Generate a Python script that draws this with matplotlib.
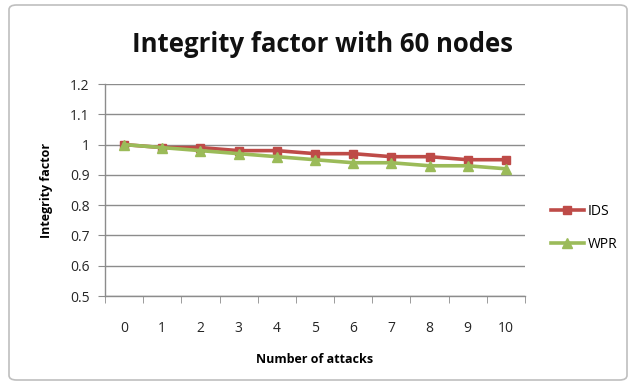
import matplotlib
matplotlib.use("Agg")
import matplotlib.pyplot as plt
from matplotlib.patches import FancyBboxPatch
import numpy as np

attacks = [0, 1, 2, 3, 4, 5, 6, 7, 8, 9, 10]
ids_values = [1.00, 0.99, 0.99, 0.98, 0.98, 0.97, 0.97, 0.96, 0.96, 0.95, 0.95]
wpr_values = [1.00, 0.99, 0.98, 0.97, 0.96, 0.95, 0.94, 0.94, 0.93, 0.93, 0.92]
y_ticks = [0.5, 0.6, 0.7, 0.8, 0.9, 1.0, 1.1, 1.2]
y_tick_labels = ["0.5", "0.6", "0.7", "0.8", "0.9", "1", "1.1", "1.2"]

plt.rcParams['font.family'] = ['Open Sans', 'DejaVu Sans']

W, H = 630, 386
fig = plt.figure(figsize=(W / 100, H / 100), dpi=100)
fig.patch.set_facecolor("white")

# rounded chart border, drawn behind the axes
border = FancyBboxPatch((9 / W, 6 / H), 618 / W, 375 / H,
                        boxstyle="round,pad=0,rounding_size=0.012",
                        transform=fig.transFigure, facecolor="white",
                        edgecolor="#BFBFBF", linewidth=1.2, zorder=-10)
fig.patches.append(border)

ax = fig.add_axes([105 / W, 90 / H, 420 / W, 212 / H])
ax.set_zorder(5)
ax.set_facecolor("none")

x = np.arange(len(attacks))
ax.plot(x, ids_values, color="#BE4B48", linewidth=2.6, marker="s",
        markersize=6, label="IDS", zorder=3)
ax.plot(x, wpr_values, color="#9BBB59", linewidth=2.6, marker="^",
        markersize=7, label="WPR", zorder=4)

ax.set_xlim(-0.5, len(attacks) - 0.5)
ax.set_ylim(0.5, 1.2)
ax.set_yticks(y_ticks)
ax.set_yticklabels(y_tick_labels)
ax.set_xticks(x)
ax.set_xticklabels([str(a) for a in attacks])
ax.set_xticks(np.arange(-0.5, len(attacks)), minor=True)
ax.tick_params(axis="x", which="major", length=0, pad=18, labelsize=10, labelcolor="#262626")
ax.tick_params(axis="x", which="minor", length=5, color="#8C8C8C", direction="out")
ax.tick_params(axis="y", length=5, color="#8C8C8C", direction="out", labelsize=10,
               pad=6, labelcolor="#262626")

ax.grid(axis="y", color="#8C8C8C", linewidth=1.0)
ax.set_axisbelow(True)
for s in ["top", "right"]:
    ax.spines[s].set_visible(False)
for s in ["left", "bottom"]:
    ax.spines[s].set_color("#8C8C8C")
    ax.spines[s].set_linewidth(1.0)

ax.set_xlabel("Number of attacks", fontsize=9, fontweight="bold", labelpad=12)
ax.set_ylabel("Integrity factor", fontsize=9, fontweight="bold", labelpad=12)

fig.text(323 / W, 1 - 45 / H, "Integrity factor with 60 nodes", ha="center",
         va="center", fontsize=18.5, fontweight="bold", color="#111111")

leg = fig.legend(loc="center left", bbox_to_anchor=(538 / W, 1 - 228 / H),
                 frameon=False, fontsize=10, handlelength=2.4,
                 labelspacing=1.3, handletextpad=0.3)

fig.savefig("out.png", dpi=100)
